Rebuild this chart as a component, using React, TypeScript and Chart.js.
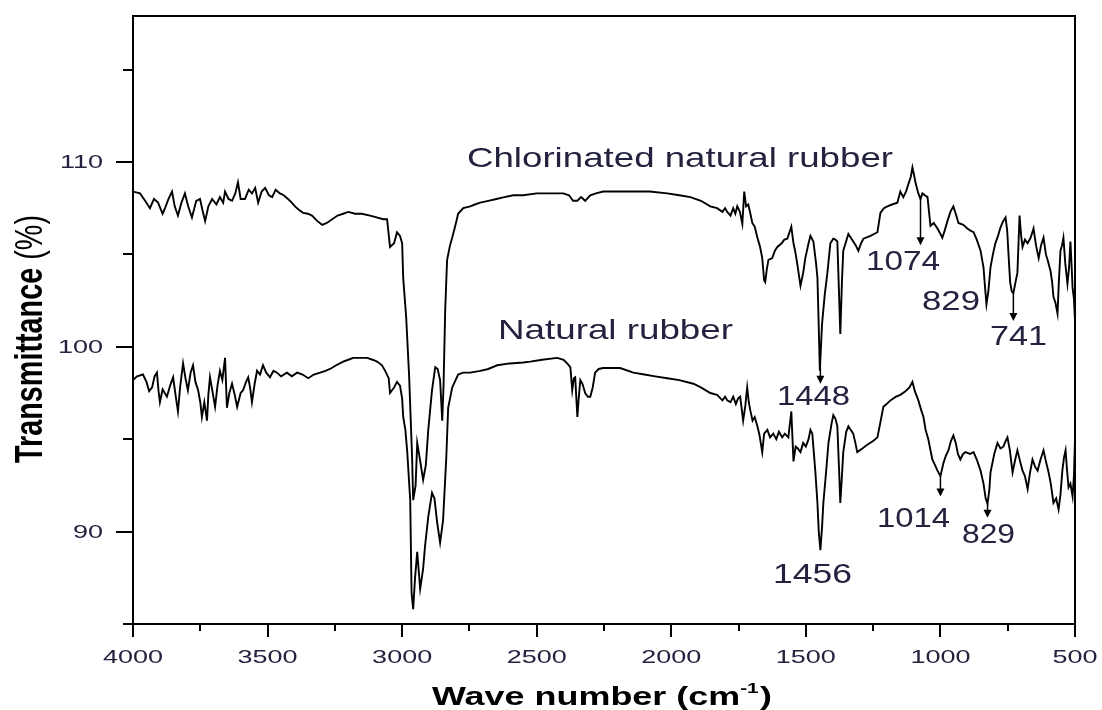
import React, { useEffect, useRef } from 'react';
import { Chart, registerables } from 'chart.js';

Chart.register(...registerables);

// ---------- data ----------
const cnrWavenumbers = [
  4000, 3974, 3955, 3937, 3922, 3907, 3890, 3881, 3868, 3855, 3845, 3833, 3820, 3807, 3795, 3781, 3765, 3751, 3742, 3732,
  3720, 3706, 3690, 3677, 3665, 3658, 3645, 3632, 3620, 3610, 3600, 3584, 3570, 3558, 3546, 3535, 3522, 3509, 3495, 3483,
  3470, 3454, 3440, 3424, 3410, 3398, 3383, 3368, 3350, 3335, 3315, 3297, 3280, 3260, 3240, 3219, 3200, 3175, 3150, 3119,
  3095, 3070, 3056, 3045, 3030, 3019, 3008, 3000, 2996, 2985, 2974, 2963, 2959, 2950, 2944, 2935, 2922, 2912, 2903, 2889,
  2877, 2868, 2859, 2851, 2846, 2840, 2833, 2822, 2814, 2800, 2792, 2773, 2747, 2730, 2710, 2680, 2650, 2620, 2587, 2550,
  2500, 2450, 2401, 2380, 2365, 2349, 2335, 2320, 2301, 2280, 2253, 2200, 2141, 2080, 2015, 1970, 1929, 1890, 1855, 1830,
  1810, 1800, 1792, 1780, 1770, 1762, 1755, 1745, 1736, 1729, 1722, 1714, 1706, 1699, 1690, 1680, 1670, 1662, 1655, 1651,
  1645, 1639, 1625, 1615, 1606, 1590, 1580, 1569, 1554, 1546, 1540, 1532, 1520, 1510, 1502, 1490, 1483, 1472, 1462, 1457,
  1452, 1448, 1440, 1430, 1420, 1409, 1398, 1390, 1383, 1377, 1372, 1366, 1361, 1342, 1333, 1324, 1315, 1305, 1295, 1286,
  1260, 1234, 1223, 1210, 1197, 1180, 1160, 1149, 1138, 1128, 1119, 1110, 1104, 1098, 1093, 1082, 1074, 1067, 1058, 1048,
  1037, 1025, 1011, 1000, 993, 984, 974, 963, 952, 943, 933, 915, 900, 890, 877, 865, 851, 840, 833, 829,
  822, 814, 805, 796, 786, 777, 767, 758, 752, 747, 741, 735, 729, 721, 714, 706, 700, 695, 686, 676,
  665, 654, 645, 635, 626, 617, 608, 600, 591, 585, 580, 573, 565, 560, 554, 548, 543, 536, 528, 522,
  517, 512, 509, 504, 500,
];
const cnrTransmittance = [
  108.4, 108.3, 107.9, 107.5, 108.0, 107.8, 107.2, 107.5, 108.0, 108.4, 107.6, 107.1, 107.8, 108.3, 107.6, 107.0, 107.9, 108.0, 107.4, 106.8,
  107.6, 108.0, 107.7, 108.1, 107.8, 108.4, 108.0, 107.9, 108.3, 108.9, 108.0, 108.0, 108.5, 108.3, 108.6, 107.8, 108.4, 108.6, 108.2, 108.1,
  108.5, 108.3, 108.2, 108.0, 107.8, 107.6, 107.4, 107.25, 107.2, 107.1, 106.8, 106.6, 106.7, 106.9, 107.1, 107.2, 107.3, 107.2, 107.2, 107.1,
  107.0, 106.9, 106.9, 105.4, 105.6, 106.2, 106.0, 105.6, 103.7, 101.6, 98.4, 94.0, 91.7, 92.5, 94.8, 94.0, 92.8, 93.6, 95.5, 97.65,
  98.9, 98.8, 98.2, 96.0, 98.0, 102.0, 104.7, 105.5, 105.9, 106.7, 107.2, 107.5, 107.6, 107.7, 107.8, 107.9, 108.0, 108.1, 108.2, 108.2,
  108.3, 108.3, 108.3, 108.2, 107.9, 107.9, 108.1, 107.9, 108.2, 108.3, 108.4, 108.4, 108.4, 108.4, 108.3, 108.2, 108.1, 107.9, 107.6, 107.5,
  107.3, 107.5, 107.3, 107.1, 107.5, 107.2, 107.6, 107.3, 106.65, 108.4, 107.6, 107.7, 107.2, 106.7, 106.5, 105.9, 105.4, 104.8, 103.6, 103.5,
  104.2, 104.7, 104.8, 105.2, 105.4, 105.6, 105.8, 105.85, 106.5, 105.6, 105.2, 104.5, 103.3, 104.0, 104.8, 105.6, 106.0, 105.7, 104.5, 103.75,
  101.0, 98.7, 101.2, 102.8, 104.0, 105.6, 105.85, 105.8, 105.7, 103.0, 100.7, 103.5, 105.2, 106.1, 105.9, 105.7, 105.5, 105.2, 105.6, 105.85,
  106.0, 106.2, 107.25, 107.5, 107.6, 107.7, 107.8, 108.4, 108.1, 108.4, 108.8, 109.2, 109.7, 109.3, 108.9, 108.3, 108.0, 108.3, 108.2, 108.1,
  106.55, 106.7, 106.4, 106.1, 105.9, 106.3, 106.8, 107.3, 107.6, 107.2, 106.7, 106.6, 106.4, 106.3, 106.2, 105.8, 105.2, 104.3, 103.0, 102.3,
  103.0, 104.3, 105.0, 105.6, 106.0, 106.45, 106.8, 107.0, 106.3, 105.0, 103.5, 103.0, 102.9, 103.5, 104.0, 107.1, 106.0, 105.4, 105.8, 105.6,
  105.9, 106.4, 105.5, 104.8, 105.5, 105.9, 105.0, 104.6, 104.1, 103.5, 102.7, 102.4, 101.8, 103.5, 105.2, 105.5, 105.9, 104.5, 103.4, 104.3,
  105.7, 104.2, 103.2, 102.6, 101.4,
];

const nrWavenumbers = [
  4000, 3985, 3963, 3950, 3940, 3929, 3920, 3911, 3905, 3900, 3890, 3874, 3862, 3851, 3842, 3833, 3825, 3814, 3805, 3796,
  3786, 3777, 3768, 3758, 3750, 3744, 3735, 3725, 3720, 3714, 3705, 3695, 3686, 3677, 3668, 3658, 3651, 3642, 3632, 3622,
  3613, 3600, 3591, 3580, 3572, 3565, 3558, 3548, 3539, 3528, 3517, 3505, 3491, 3478, 3465, 3450, 3428, 3410, 3390, 3370,
  3349, 3328, 3305, 3285, 3268, 3245, 3219, 3200, 3182, 3155, 3130, 3110, 3093, 3075, 3063, 3050, 3045, 3030, 3019, 3008,
  3000, 2996, 2988, 2981, 2970, 2965, 2959, 2952, 2944, 2933, 2922, 2915, 2903, 2889, 2880, 2870, 2859, 2848, 2836, 2829,
  2814, 2792, 2773, 2747, 2710, 2680, 2647, 2600, 2550, 2524, 2480, 2424, 2400, 2387, 2375, 2368, 2362, 2357, 2349, 2344,
  2338, 2330, 2320, 2310, 2301, 2292, 2283, 2270, 2253, 2227, 2190, 2141, 2100, 2060, 2015, 1970, 1918, 1890, 1855, 1830,
  1810, 1800, 1792, 1780, 1770, 1760, 1752, 1744, 1733, 1725, 1718, 1712, 1707, 1698, 1690, 1680, 1672, 1662, 1655, 1643,
  1633, 1621, 1610, 1600, 1588, 1578, 1565, 1554, 1546, 1538, 1530, 1520, 1510, 1500, 1490, 1483, 1476, 1465, 1457, 1452,
  1446, 1440, 1435, 1425, 1416, 1405, 1398, 1390, 1383, 1377, 1372, 1366, 1361, 1350, 1342, 1333, 1324, 1316, 1309, 1290,
  1272, 1250, 1234, 1222, 1212, 1200, 1186, 1165, 1149, 1130, 1115, 1104, 1095, 1082, 1072, 1063, 1055, 1045, 1037, 1030,
  1020, 1011, 1000, 989, 980, 970, 961, 952, 943, 935, 926, 916, 907, 890, 877, 865, 851, 840, 832, 825,
  818, 814, 800, 788, 777, 766, 758, 751, 742, 732, 722, 714, 704, 695, 686, 676, 667, 658, 648, 639,
  628, 617, 608, 598, 590, 580, 570, 561, 554, 547, 541, 535, 530, 524, 517, 509, 504, 500,
];
const nrTransmittance = [
  98.2, 98.4, 98.5, 98.1, 97.6, 97.8, 98.4, 98.6, 97.6, 97.0, 97.7, 97.3, 97.9, 98.35, 97.4, 96.5, 97.8, 99.1, 98.3, 97.65,
  98.6, 99.0, 98.1, 97.65, 97.0, 96.2, 97.0, 96.0, 97.4, 98.35, 97.6, 96.75, 97.9, 98.7, 98.2, 99.4, 96.7, 97.5, 98.0, 97.4,
  96.75, 97.5, 97.65, 98.1, 98.35, 97.8, 97.0, 98.0, 98.7, 98.5, 99.0, 98.6, 98.35, 98.7, 98.6, 98.4, 98.6, 98.4, 98.6, 98.5,
  98.3, 98.5, 98.6, 98.7, 98.8, 99.0, 99.2, 99.3, 99.4, 99.4, 99.4, 99.3, 99.2, 99.0, 98.7, 98.3, 97.5, 97.8, 98.1, 97.9,
  97.2, 96.2, 95.5, 94.3, 91.7, 86.7, 85.8, 87.5, 88.9, 86.9, 88.0, 89.2, 90.8, 92.1, 91.8, 90.5, 89.4, 90.6, 94.0, 96.7,
  97.8, 98.5, 98.6, 98.6, 98.7, 98.8, 99.0, 99.1, 99.15, 99.2, 99.3, 99.4, 99.3, 99.1, 98.9, 97.65, 98.3, 98.35, 96.2, 97.2,
  98.2, 98.0, 97.5, 97.3, 97.3, 97.8, 98.6, 98.8, 98.85, 98.85, 98.85, 98.6, 98.5, 98.4, 98.3, 98.2, 98.0, 97.8, 97.5, 97.4,
  97.1, 97.3, 97.1, 97.0, 97.3, 96.9, 97.2, 97.3, 96.0, 96.8, 97.8, 97.0, 96.6, 96.0, 96.2, 95.7, 95.2, 94.3, 95.3, 95.5,
  95.1, 95.3, 95.0, 95.4, 95.1, 95.3, 95.1, 96.5, 93.8, 94.6, 94.5, 94.3, 94.8, 94.6, 95.0, 95.5, 95.3, 93.3, 91.55, 90.0,
  89.0, 90.2, 91.55, 93.2, 94.8, 95.8, 96.3, 96.1, 95.7, 93.5, 91.55, 93.0, 94.3, 95.4, 95.7, 95.5, 95.3, 94.8, 94.3, 94.5,
  94.7, 94.9, 95.1, 96.0, 96.75, 96.9, 97.1, 97.3, 97.4, 97.6, 97.8, 98.1, 97.6, 97.1, 96.6, 96.2, 95.5, 95.0, 94.4, 93.9,
  93.6, 93.3, 93.0, 93.7, 94.1, 94.4, 94.9, 95.2, 94.8, 94.2, 93.9, 94.2, 94.3, 94.2, 94.3, 93.9, 93.3, 92.6, 91.8, 91.5,
  92.3, 93.2, 94.2, 94.8, 94.5, 94.6, 94.9, 95.1, 94.4, 93.2, 93.9, 94.4, 93.8, 93.3, 93.0, 92.3, 93.2, 93.9, 93.5, 93.3,
  93.9, 94.4, 93.8, 93.2, 92.6, 91.55, 91.8, 91.2, 92.0, 93.3, 94.0, 94.4, 93.4, 92.4, 92.6, 91.9, 93.0, 95.0,
];

// tick labels
const xTickLabels = [4000, 3500, 3000, 2500, 2000, 1500, 1000, 500];
const yTickLabels = [90, 100, 110];

// peak-marker arrows (wavenumber, from transmittance, to transmittance)
const arrowWavenumbers = [1074, 729, 1446, 1000, 825];
const arrowFrom = [108.1, 102.9, 98.9, 93.0, 91.5];
const arrowTo = [105.5, 101.4, 98.0, 91.9, 90.75];

// text annotations
const peakLabels = ['1074', '829', '741', '1448', '1456', '1014', '829'];
const seriesLabels = ['Chlorinated natural rubber', 'Natural rubber'];

// ---------- layout / styles ----------
const W = 1102;
const H = 710;
const FONT = "'Liberation Sans', Arial, Helvetica, sans-serif";
const TEXT_COLOR = '#23233f';
const TICK_STRETCH = 1.5;

// pixel boxes for the annotation texts: [left, baseline, width]
const peakLabelBoxes: [number, number, number][] = [
  [866, 270, 74],
  [922, 310, 58],
  [990, 345, 57],
  [777, 405, 73],
  [773, 583, 79],
  [877, 527, 73],
  [962, 543, 53],
];
const seriesLabelBoxes: [number, number, number][] = [
  [467, 167, 426],
  [498, 339, 235],
];

function fitText(ctx: CanvasRenderingContext2D, text: string, x: number, y: number, font: string, width: number) {
  ctx.save();
  ctx.font = font;
  ctx.textAlign = 'left';
  ctx.textBaseline = 'alphabetic';
  const w = ctx.measureText(text).width;
  ctx.translate(x, y);
  ctx.scale(width / w, 1);
  ctx.fillText(text, 0, 0);
  ctx.restore();
}

function stretchedText(ctx: CanvasRenderingContext2D, text: string, x: number, y: number, align: 'center' | 'right') {
  ctx.save();
  ctx.font = `18px ${FONT}`;
  ctx.textAlign = align;
  ctx.textBaseline = 'alphabetic';
  ctx.translate(x, y);
  ctx.scale(TICK_STRETCH, 1);
  ctx.fillText(text, 0, 0);
  ctx.restore();
}

const decorPlugin = {
  id: 'decor',
  afterDraw(chart: any) {
    const ctx = chart.ctx as CanvasRenderingContext2D;
    const { left, right, top, bottom } = chart.chartArea;
    const xs = chart.scales.x;
    const ys = chart.scales.y;

    ctx.save();
    ctx.strokeStyle = '#000';
    ctx.lineWidth = 2;
    ctx.strokeRect(left, top, right - left, bottom - top);

    // tick marks
    ctx.beginPath();
    xs.ticks.forEach((t: any) => {
      const px = Math.round(xs.getPixelForValue(t.value));
      const len = t.value % 500 === 0 ? 13 : 7;
      ctx.moveTo(px, bottom);
      ctx.lineTo(px, bottom + len);
    });
    ys.ticks.forEach((t: any) => {
      const py = Math.round(ys.getPixelForValue(t.value));
      const len = t.value % 10 === 0 ? 17 : 10;
      ctx.moveTo(left, py);
      ctx.lineTo(left - len, py);
    });
    ctx.stroke();

    // tick labels
    ctx.fillStyle = TEXT_COLOR;
    xs.ticks.forEach((t: any) => {
      if (!xTickLabels.includes(t.value)) return;
      stretchedText(ctx, String(t.value), xs.getPixelForValue(t.value), bottom + 39, 'center');
    });
    ys.ticks.forEach((t: any) => {
      if (!yTickLabels.includes(t.value)) return;
      stretchedText(ctx, String(t.value), left - 30, ys.getPixelForValue(t.value) + 6.5, 'right');
    });

    // arrows
    ctx.fillStyle = '#000';
    ctx.lineWidth = 1.5;
    arrowWavenumbers.forEach((wn, i) => {
      const px = xs.getPixelForValue(wn);
      const y1 = ys.getPixelForValue(arrowFrom[i]);
      const y2 = ys.getPixelForValue(arrowTo[i]);
      ctx.beginPath();
      ctx.moveTo(px, y1);
      ctx.lineTo(px, y2 - 6);
      ctx.stroke();
      ctx.beginPath();
      ctx.moveTo(px - 4, y2 - 8);
      ctx.lineTo(px + 4, y2 - 8);
      ctx.lineTo(px, y2);
      ctx.closePath();
      ctx.fill();
    });

    // annotation texts
    ctx.fillStyle = TEXT_COLOR;
    seriesLabels.forEach((s, i) => {
      const [x, y, w] = seriesLabelBoxes[i];
      fitText(ctx, s, x, y, `28px ${FONT}`, w);
    });
    peakLabels.forEach((s, i) => {
      const [x, y, w] = peakLabelBoxes[i];
      fitText(ctx, s, x, y, `28px ${FONT}`, w);
    });

    // x axis title: Wave number (cm-1)
    ctx.fillStyle = '#000';
    ctx.save();
    const big = `bold 26px ${FONT}`;
    const small = `bold 15px ${FONT}`;
    ctx.font = big;
    const p1 = 'Wave number (cm';
    const p3 = ')';
    const w1 = ctx.measureText(p1).width;
    const w3 = ctx.measureText(p3).width;
    ctx.font = small;
    const p2 = '-1';
    const w2 = ctx.measureText(p2).width;
    const total = w1 + w2 + 1 + w3;
    ctx.translate(432, 705);
    ctx.scale(340 / total, 1);
    ctx.textBaseline = 'alphabetic';
    ctx.textAlign = 'left';
    ctx.font = big;
    ctx.fillText(p1, 0, 0);
    ctx.font = small;
    ctx.fillText(p2, w1, -12);
    ctx.font = big;
    ctx.fillText(p3, w1 + w2 + 1, 0);
    ctx.restore();

    // y axis title: Transmittance (%)
    ctx.save();
    const fb = `bold 28px ${FONT}`;
    const fn = `28px ${FONT}`;
    ctx.font = fb;
    const t1 = 'Transmittance';
    const tw1 = ctx.measureText(t1).width;
    ctx.font = fn;
    const t2 = ' (%)';
    const tw2 = ctx.measureText(t2).width;
    ctx.translate(42, 463);
    ctx.scale(1.4, 1);
    ctx.rotate(-Math.PI / 2);
    ctx.scale(248 / (tw1 + tw2), 1);
    ctx.textBaseline = 'alphabetic';
    ctx.textAlign = 'left';
    ctx.font = fb;
    ctx.fillText(t1, 0, 0);
    ctx.font = fn;
    ctx.fillText(t2, tw1, 0);
    ctx.restore();

    ctx.restore();
  },
};

export default function App() {
  const canvasRef = useRef<HTMLCanvasElement | null>(null);

  useEffect(() => {
    if (!canvasRef.current) return;
    const cnr = cnrWavenumbers.map((x, i) => ({ x, y: cnrTransmittance[i] }));
    const nr = nrWavenumbers.map((x, i) => ({ x, y: nrTransmittance[i] }));
    const chart = new Chart(canvasRef.current, {
      type: 'line',
      data: {
        datasets: [
          { label: seriesLabels[0], data: cnr, borderColor: '#000', borderWidth: 1.9, pointRadius: 0, tension: 0, fill: false },
          { label: seriesLabels[1], data: nr, borderColor: '#000', borderWidth: 1.9, pointRadius: 0, tension: 0, fill: false },
        ],
      },
      options: {
        responsive: false,
        animation: false,
        devicePixelRatio: 1,
        layout: { padding: { top: 16, right: 27, left: 0, bottom: 0 } },
        plugins: { legend: { display: false }, tooltip: { enabled: false } },
        scales: {
          x: {
            type: 'linear',
            reverse: true,
            min: 500,
            max: 4000,
            grid: { display: false },
            border: { display: false },
            ticks: {
              display: false,
              stepSize: 250,
              maxTicksLimit: 30,
              autoSkip: false,
            },
            afterFit: (s: any) => {
              s.height = H - 624;
              s.paddingLeft = 0;
              s.paddingRight = 0;
            },
          },
          y: {
            type: 'linear',
            min: 85,
            max: 117.9,
            grid: { display: false },
            border: { display: false },
            ticks: {
              display: false,
              stepSize: 5,
              maxTicksLimit: 30,
              includeBounds: false,
              autoSkip: false,
            },
            afterFit: (s: any) => {
              s.width = 133;
              s.paddingTop = 0;
              s.paddingBottom = 0;
            },
          },
        },
      },
      plugins: [decorPlugin],
    });
    return () => chart.destroy();
  }, []);

  return (
    <div style={{ position: 'absolute', left: 0, top: 0, width: W, height: H, background: '#fff' }}>
      <canvas ref={canvasRef} width={W} height={H} style={{ width: W, height: H, display: 'block' }} />
    </div>
  );
}
